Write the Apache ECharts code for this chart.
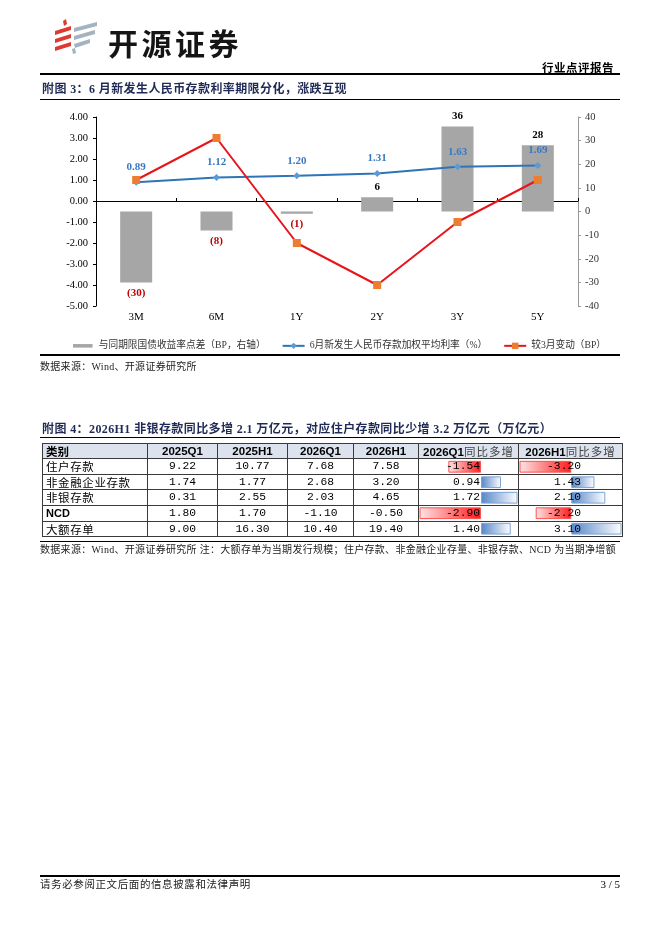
<!DOCTYPE html>
<html>
<head>
<meta charset="utf-8">
<script src="https://cdn.jsdelivr.net/npm/echarts@6/dist/echarts.min.js"></script>
<style>
body{margin:0;background:#fff;}
#page{position:relative;width:662px;height:936px;overflow:hidden;font-family:"Liberation Serif","Noto Sans CJK SC",serif;color:#000;}
#chart{position:absolute;left:0;top:0;width:662px;height:936px;z-index:1;}
.txt{position:absolute;z-index:2;white-space:nowrap;line-height:1;}
.hr{position:absolute;left:40px;width:580px;background:#000;z-index:2;}
.ttl{left:42px;font-size:12px;font-weight:bold;color:#1f2a56;letter-spacing:0.4px;}
.src{left:40px;font-size:10px;color:#222;letter-spacing:0.3px;}
#tbl{position:absolute;left:42px;top:443px;width:580px;border-collapse:collapse;table-layout:fixed;z-index:2;}
#tbl th,#tbl td{border:1px solid #3a3a3a;padding:0;white-space:nowrap;}
#tbl .c{overflow:hidden;}
#tbl th{background:#dce3ee;font:bold 11.5px "Liberation Sans","Noto Sans CJK SC";text-align:center;}
#tbl th .c{height:14px;line-height:14px;}
#tbl th.lab{text-align:left;font-family:"Noto Sans CJK SC";}
#tbl th span{font-weight:normal;color:#444;font-family:"Noto Sans CJK SC";letter-spacing:1px;}
#tbl td{background:transparent;font:11.3px "Liberation Mono",monospace;text-align:center;}
#tbl td .c{height:14.7px;line-height:14.7px;}
#tbl .lab .c{padding-left:3px;}
#tbl td.lab{text-align:left;font:11.5px "Noto Sans CJK SC";letter-spacing:0.6px;}
#tbl td.ncd{font:bold 11px "Liberation Sans";letter-spacing:0;}
#tbl td.d1 .c{text-align:right;padding-right:38px;}
#tbl td.d2 .c{text-align:right;padding-right:41px;}
</style>
</head>
<body>
<div id="page">
  <div id="chart"></div>

  <svg class="txt" style="left:50px;top:18px" width="52" height="38" viewBox="0 0 52 38">
    <polygon points="13,3 16,1 17,6 14,8" fill="#e0392f"/>
    <polygon points="5,13 21,8 21,12 5,17" fill="#e0392f"/>
    <polygon points="5,21 21,16 21,20 5,25" fill="#e0392f"/>
    <polygon points="5,29 21,24 21,28 5,33" fill="#e0392f"/>
    <polygon points="24,10 47,4 47,8 24,14" fill="#a3b3bf"/>
    <polygon points="24,18 45,12 45,16 24,22" fill="#a3b3bf"/>
    <polygon points="24,26 40,21 40,25 25,30" fill="#a3b3bf"/>
    <polygon points="22,31 25,30 26,35 23,36" fill="#a3b3bf"/>
  </svg>
  <div class="txt" style="left:108px;top:20px;font:bold 30px 'Noto Sans CJK SC';letter-spacing:3.5px;color:#151515;">开源证券</div>
  <div class="txt" style="right:48px;top:59px;font:bold 11.5px 'Noto Sans CJK SC';letter-spacing:0.5px;">行业点评报告</div>
  <div class="hr" style="top:73px;height:1.5px"></div>

  <div class="txt ttl" style="top:83px">附图 3：6 月新发生人民币存款利率期限分化，涨跌互现</div>
  <div class="hr" style="top:98.5px;height:1px"></div>

  <div class="hr" style="top:354px;height:1.5px"></div>
  <div class="txt src" style="top:362px">数据来源：Wind、开源证券研究所</div>

  <div class="txt ttl" style="top:423px">附图 4：2026H1 非银存款同比多增 2.1 万亿元，对应住户存款同比少增 3.2 万亿元（万亿元）</div>
  <div class="hr" style="top:437px;height:1px"></div>

  <table id="tbl">
    <colgroup>
      <col style="width:105px"><col style="width:70px"><col style="width:70px"><col style="width:66px">
      <col style="width:65px"><col style="width:100px"><col style="width:104px">
    </colgroup>
    <thead></thead>
    <tbody></tbody>
  </table>

  <div class="hr" style="top:541px;height:1px"></div>
  <div class="txt src" style="top:545px">数据来源：Wind、开源证券研究所 注：大额存单为当期发行规模；住户存款、非金融企业存量、非银存款、NCD 为当期净增额</div>

  <div class="hr" style="top:875px;height:1.5px"></div>
  <div class="txt" style="left:40px;top:879px;font-size:10.5px;letter-spacing:0.6px;font-family:'Noto Sans CJK SC';color:#222;">请务必参阅正文后面的信息披露和法律声明</div>
  <div class="txt" style="right:42px;top:879px;font-size:11px;">3 / 5</div>
</div>

<script>
// ---- 附图3 data ----
let terms = ['3M', '6M', '1Y', '2Y', '3Y', '5Y'];
let spread = [-30, -8, -1, 6, 36, 28];            // 与同期限国债收益率点差 (BP, 右轴)
let rate = [0.89, 1.12, 1.20, 1.31, 1.63, 1.69];  // 6月新发生人民币存款加权平均利率 (%)
let change = [1, 3, -2, -4, -1, 1];               // 较3月变动 (BP)
let leftMin = -5, leftMax = 4, leftStep = 1;
let rightMin = -40, rightMax = 40, rightStep = 10;

// ---- 附图4 data ----
let headers = ['类别', '2025Q1', '2025H1', '2026Q1', '2026H1', '2026Q1', '2026H1'];
let kinds = ['住户存款', '非金融企业存款', '非银存款', 'NCD', '大额存单'];
let q1_2025 = [9.22, 1.74, 0.31, 1.80, 9.00];
let h1_2025 = [10.77, 1.77, 2.55, 1.70, 16.30];
let q1_2026 = [7.68, 2.68, 2.03, -1.10, 10.40];
let h1_2026 = [7.58, 3.20, 4.65, -0.50, 19.40];
let q1Diff = [-1.54, 0.94, 1.72, -2.90, 1.40];
let h1Diff = [-3.20, 1.43, 2.10, -2.20, 3.10];

// build the table
function cell(tag, html, cls) {
    let el = document.createElement(tag);
    if (cls) el.className = cls;
    let d = document.createElement('div');
    d.className = 'c';
    d.innerHTML = html;
    el.appendChild(d);
    return el;
}
let thead = document.querySelector('#tbl thead');
let hr = document.createElement('tr');
headers.forEach((h, i) => {
    hr.appendChild(cell('th', i >= 5 ? h + '<span>同比多增</span>' : h, i === 0 ? 'lab' : ''));
});
thead.appendChild(hr);

let tbody = document.querySelector('#tbl tbody');
kinds.forEach((k, r) => {
    let tr = document.createElement('tr');
    let cells = [k, q1_2025[r], h1_2025[r], q1_2026[r], h1_2026[r], q1Diff[r], h1Diff[r]];
    cells.forEach((c, i) => {
        if (i === 0) {
            tr.appendChild(cell('td', c, c === 'NCD' ? 'lab ncd' : 'lab'));
        } else {
            tr.appendChild(cell('td', c.toFixed(2), i === 5 ? 'd1' : (i === 6 ? 'd2' : '')));
        }
    });
    tbody.appendChild(tr);
});

// where the data-bar columns sit on the page
let rows = tbody.querySelectorAll('tr');
let pageBox = document.getElementById('page').getBoundingClientRect();
let firstRow = rows[0].getBoundingClientRect();
let lastRow = rows[rows.length - 1].getBoundingClientRect();
let colQ = rows[0].children[5].getBoundingClientRect();
let colH = rows[0].children[6].getBoundingClientRect();
let bodyTop = firstRow.top - pageBox.top;
let bodyHeight = lastRow.bottom - firstRow.top;

let serif = 'Liberation Serif';
let legendFont = 'Liberation Serif, Noto Sans CJK SC';

let redBar = {
    color: {type: 'linear', x: 0, y: 0, x2: 1, y2: 0,
        colorStops: [{offset: 0, color: '#fde6e6'}, {offset: 1, color: '#ff1a1a'}]},
    borderColor: '#ff5050', borderWidth: 1
};
let blueBar = {
    color: {type: 'linear', x: 0, y: 0, x2: 1, y2: 0,
        colorStops: [{offset: 0, color: '#5585c8'}, {offset: 1, color: '#ffffff'}]},
    borderColor: '#7ba3d6', borderWidth: 1
};
function barItems(arr) {
    return arr.map(v => ({value: v, itemStyle: v < 0 ? redBar : blueBar}));
}

let myChart = echarts.init(document.getElementById('chart'));
let option = {
    animation: false,
    grid: [
        {left: 96, top: 117, width: 482, height: 189},
        {left: colQ.left - pageBox.left + 1, width: colQ.width - 2, top: bodyTop + 0.5, height: bodyHeight - 1},
        {left: colH.left - pageBox.left + 1, width: colH.width - 2, top: bodyTop + 0.5, height: bodyHeight - 1}
    ],
    legend: {
        left: 68,
        top: 336,
        itemWidth: 22,
        itemHeight: 8,
        itemGap: 16,
        textStyle: {fontFamily: legendFont, fontSize: 9.7, color: '#333'},
        data: [
            {name: '与同期限国债收益率点差（BP，右轴）', icon: 'path://M0,0M0,2.5h22v4h-22zM0,9'},
            {name: '6月新发生人民币存款加权平均利率（%）'},
            {name: '较3月变动（BP）'}
        ]
    },
    xAxis: [
        {
            type: 'category', gridIndex: 0, data: terms, position: 'bottom',
            axisLine: {show: false}, axisTick: {show: false},
            axisLabel: {margin: 6, fontSize: 11, color: '#000', fontFamily: serif}
        },
        {
            type: 'category', gridIndex: 0, data: terms, position: 'top',
            axisLine: {show: true, onZero: true, onZeroAxisIndex: 0, lineStyle: {color: '#000', width: 1}},
            axisTick: {show: true, length: 3, lineStyle: {color: '#000'}},
            axisLabel: {show: false}
        },
        {type: 'value', gridIndex: 1, min: Math.min(...q1Diff), max: Math.max(...q1Diff), show: false},
        {type: 'value', gridIndex: 2, min: Math.min(...h1Diff), max: Math.max(...h1Diff), show: false}
    ],
    yAxis: [
        {
            type: 'value', gridIndex: 0, position: 'left',
            min: leftMin, max: leftMax, interval: leftStep,
            axisLine: {show: true, lineStyle: {color: '#000'}},
            axisTick: {show: true, length: 3, lineStyle: {color: '#000'}},
            splitLine: {show: false},
            axisLabel: {formatter: v => v.toFixed(2), fontSize: 10.5, color: '#000', fontFamily: serif, margin: 8}
        },
        {
            type: 'value', gridIndex: 0, position: 'right',
            min: rightMin, max: rightMax, interval: rightStep,
            axisLine: {show: true, lineStyle: {color: '#999'}},
            axisTick: {show: true, length: 3, lineStyle: {color: '#999'}},
            splitLine: {show: false},
            axisLabel: {fontSize: 10.5, color: '#333', fontFamily: serif, margin: 7}
        },
        {type: 'category', gridIndex: 1, data: kinds, inverse: true, show: false},
        {type: 'category', gridIndex: 2, data: kinds, inverse: true, show: false}
    ],
    series: [
        {
            name: '与同期限国债收益率点差（BP，右轴）',
            type: 'bar',
            xAxisIndex: 0, yAxisIndex: 1,
            barWidth: 32,
            itemStyle: {color: '#a6a6a6'},
            label: {
                show: true, fontFamily: serif, fontSize: 11, fontWeight: 'bold',
                formatter: p => p.value < 0 ? '(' + Math.abs(p.value) + ')' : String(p.value)
            },
            data: spread.map(v => ({
                value: v,
                label: {position: v < 0 ? 'bottom' : 'top', color: v < 0 ? '#c00000' : '#000'}
            }))
        },
        {
            name: '6月新发生人民币存款加权平均利率（%）',
            type: 'line',
            xAxisIndex: 0, yAxisIndex: 0,
            symbol: 'diamond', symbolSize: 7,
            lineStyle: {color: '#2e75b6', width: 2},
            itemStyle: {color: '#5b9bd5'},
            label: {
                show: true, position: 'top', distance: 6,
                formatter: p => p.value.toFixed(2),
                color: '#3a78c0', fontFamily: serif, fontSize: 11, fontWeight: 'bold'
            },
            data: rate
        },
        {
            name: '较3月变动（BP）',
            type: 'line',
            xAxisIndex: 0, yAxisIndex: 0,
            symbol: 'rect', symbolSize: 8,
            lineStyle: {color: '#e8141c', width: 2},
            itemStyle: {color: '#ed7d31'},
            data: change
        },
        {
            type: 'bar', xAxisIndex: 2, yAxisIndex: 2,
            barCategoryGap: '24%', silent: true,
            data: barItems(q1Diff)
        },
        {
            type: 'bar', xAxisIndex: 3, yAxisIndex: 3,
            barCategoryGap: '24%', silent: true,
            data: barItems(h1Diff)
        }
    ]
};
myChart.setOption(option);
</script>
</body>
</html>
